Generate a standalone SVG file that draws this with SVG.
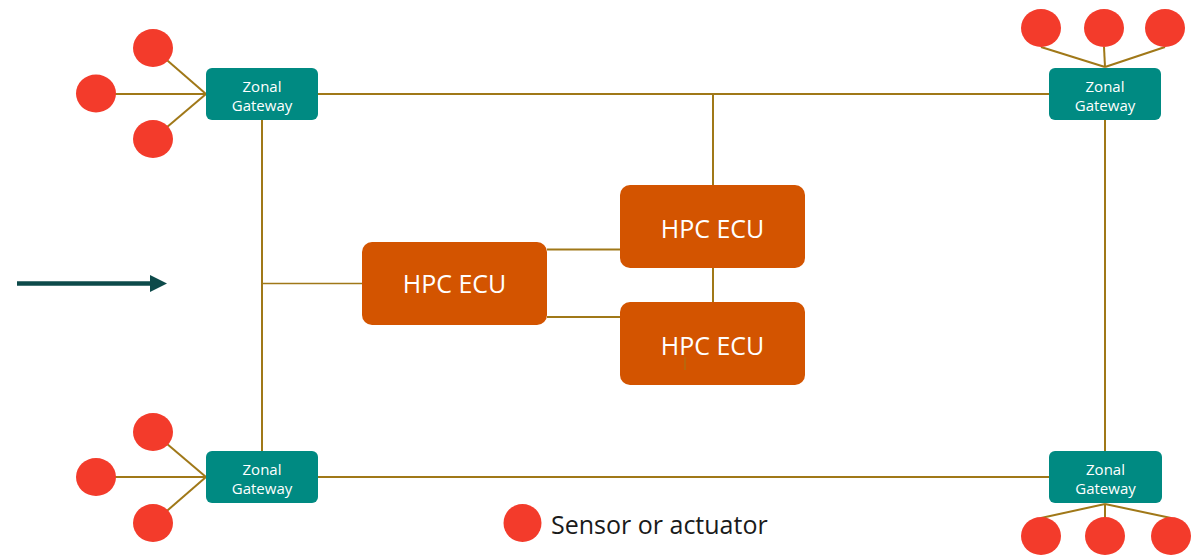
<svg xmlns="http://www.w3.org/2000/svg" width="1199" height="556" viewBox="0 0 1199 556">
  <style>
    .wire { stroke: #A07818; stroke-width: 2; fill: none; }
    .thin { stroke: #A07818; stroke-width: 1.4; fill: none; }
    .gw rect { fill: #008A82; }
    .gw text { fill: #ffffff; font-family: "Open Sans", "Noto Sans", sans-serif; font-size: 15px; text-anchor: middle; }
    .ecu rect { fill: #D35400; }
    .ecu text { fill: #ffffff; font-family: "Open Sans", "Noto Sans", sans-serif; font-size: 25px; text-anchor: middle; }
    .dev { fill: #F33B2B; }
    .legend text { fill: #1a1a1a; font-family: "Open Sans", "Noto Sans", sans-serif; font-size: 25px; }
  </style>
  <defs>
    <marker id="arrowhead" markerWidth="18" markerHeight="18" refX="0" refY="8.5" orient="auto" markerUnits="userSpaceOnUse">
      <path d="M0,0 L17,8.5 L0,17 Z" fill="#0D4A4A"/>
    </marker>
  </defs>

  <!-- connectors -->
  <g id="connectors">
    <!-- backbone ring -->
    <line class="wire" x1="318" y1="94" x2="1049" y2="94"/>
    <line class="wire" x1="318" y1="477" x2="1049" y2="477" stroke-width="2.4"/>
    <line class="wire" x1="262" y1="120" x2="262" y2="451"/>
    <line class="wire" x1="1105" y1="120" x2="1105" y2="451"/>
    <!-- HPC links -->
    <line class="wire" x1="713" y1="94" x2="713" y2="185"/>
    <line class="wire" x1="713" y1="268" x2="713" y2="302"/>
    <line class="wire" x1="547" y1="249.5" x2="620" y2="249.5"/>
    <line class="wire" x1="547" y1="317" x2="620" y2="317"/>
    <line class="thin" x1="262" y1="283.5" x2="362" y2="283.5"/>
    <!-- sensor links, top-left -->
    <line class="wire" x1="153" y1="48" x2="206" y2="94"/>
    <line class="wire" x1="96" y1="94" x2="206" y2="94"/>
    <line class="wire" x1="153" y1="139" x2="206" y2="94"/>
    <!-- sensor links, bottom-left -->
    <line class="wire" x1="153" y1="432" x2="206" y2="477"/>
    <line class="wire" x1="96" y1="477" x2="206" y2="477"/>
    <line class="wire" x1="153" y1="523" x2="206" y2="477"/>
    <!-- sensor links, top-right -->
    <line class="wire" x1="1041" y1="47" x2="1105" y2="67"/>
    <line class="wire" x1="1104" y1="47" x2="1105" y2="67"/>
    <line class="wire" x1="1165" y1="47" x2="1105" y2="67"/>
    <!-- sensor links, bottom-right -->
    <line class="wire" x1="1105" y1="504" x2="1041" y2="518"/>
    <line class="wire" x1="1105" y1="504" x2="1105" y2="518"/>
    <line class="wire" x1="1105" y1="504" x2="1171" y2="518"/>
    <!-- direction of travel -->
    <line x1="17" y1="283.5" x2="150" y2="283.5" stroke="#0D4A4A" stroke-width="4.5" marker-end="url(#arrowhead)"/>
  </g>

  <!-- sensors / actuators -->
  <g id="devices-tl">
    <ellipse class="dev" cx="153" cy="48" rx="20" ry="19"/>
    <ellipse class="dev" cx="96" cy="93.5" rx="20" ry="19"/>
    <ellipse class="dev" cx="153" cy="139" rx="20" ry="19"/>
  </g>
  <g id="devices-bl">
    <ellipse class="dev" cx="153" cy="432" rx="20" ry="19"/>
    <ellipse class="dev" cx="96" cy="477" rx="20" ry="19"/>
    <ellipse class="dev" cx="153" cy="523" rx="20" ry="19"/>
  </g>
  <g id="devices-tr">
    <ellipse class="dev" cx="1041" cy="28" rx="20" ry="19"/>
    <ellipse class="dev" cx="1104" cy="28" rx="20" ry="19"/>
    <ellipse class="dev" cx="1165" cy="28" rx="20" ry="19"/>
  </g>
  <g id="devices-br">
    <ellipse class="dev" cx="1041" cy="536" rx="20" ry="19"/>
    <ellipse class="dev" cx="1105" cy="536" rx="20" ry="19"/>
    <ellipse class="dev" cx="1171" cy="536" rx="20" ry="19"/>
  </g>

  <!-- zonal gateways -->
  <g id="gw-tl" class="gw">
    <rect x="206" y="68" width="112" height="52" rx="6"/>
    <text x="262" y="91.5">Zonal</text>
    <text x="262" y="110.5">Gateway</text>
  </g>
  <g id="gw-tr" class="gw">
    <rect x="1049" y="68" width="112" height="52" rx="6"/>
    <text x="1105" y="91.5">Zonal</text>
    <text x="1105" y="110.5">Gateway</text>
  </g>
  <g id="gw-bl" class="gw">
    <rect x="206" y="451" width="112" height="52" rx="6"/>
    <text x="262" y="474.5">Zonal</text>
    <text x="262" y="493.5">Gateway</text>
  </g>
  <g id="gw-br" class="gw">
    <rect x="1049" y="451" width="113" height="52" rx="6"/>
    <text x="1105.5" y="474.5">Zonal</text>
    <text x="1105.5" y="493.5">Gateway</text>
  </g>

  <!-- central compute -->
  <g id="hpc-left" class="ecu">
    <rect x="362" y="242" width="185" height="83" rx="10"/>
    <text x="454.5" y="293">HPC ECU</text>
  </g>
  <g id="hpc-top" class="ecu">
    <rect x="620" y="185" width="185" height="83" rx="10"/>
    <text x="712.5" y="238">HPC ECU</text>
  </g>
  <g id="hpc-bottom" class="ecu">
    <rect x="620" y="302" width="185" height="83" rx="10"/>
    <text x="712.5" y="355">HPC ECU</text>
    <line x1="685" y1="357" x2="685" y2="370" stroke="#A07818" stroke-width="1"/>
  </g>

  <!-- legend -->
  <g id="legend" class="legend">
    <ellipse class="dev" cx="522.5" cy="523" rx="19" ry="19"/>
    <text x="551" y="534">Sensor or actuator</text>
  </g>
</svg>
